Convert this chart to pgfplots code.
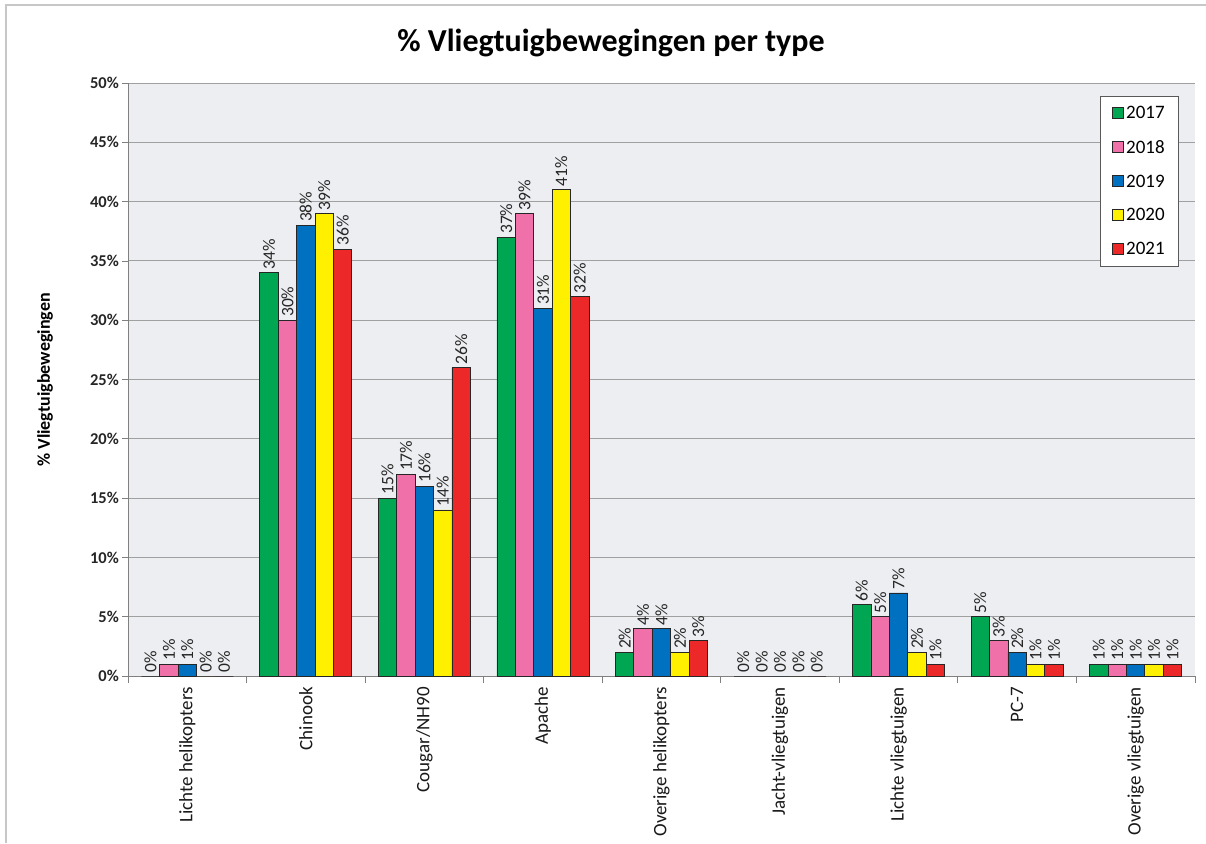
\documentclass[border=0pt]{standalone}
\usepackage{fontspec}
\setmainfont{Carlito}
\usepackage{pgfplots}
\pgfplotsset{compat=1.18}
\definecolor{c17}{RGB}{0,166,81}
\definecolor{c18}{RGB}{240,112,170}
\definecolor{c19}{RGB}{0,112,192}
\definecolor{c20}{RGB}{255,240,0}
\definecolor{c21}{RGB}{237,40,40}
\definecolor{plotbg}{RGB}{237,238,241}
\definecolor{gridc}{RGB}{160,160,160}
\begin{document}
\begin{tikzpicture}
\begin{axis}[
  name=ax,
  width=1067pt, height=593pt, scale only axis,
  xmin=-0.5, xmax=8.5, ymin=0, ymax=50,
  ybar=0pt, bar width=18.4pt,
  axis background/.style={fill=plotbg},
  axis x line*=bottom, axis y line*=left,
  axis line style={draw=gray, line width=0.8pt, -},
  ytick={0,5,...,50},
  yticklabel={\pgfmathprintnumber{\tick}\%},
  /pgf/number format/assume math mode=true,
  yticklabel style={font=\bfseries\fontsize{16.5}{19}\selectfont, text=black!85, inner sep=3pt},
  ymajorgrids, major grid style={draw=gridc, line width=0.9pt},
  tick style={draw=gray, line width=0.8pt},
  tick align=outside, major tick length=6pt, minor tick length=7pt,
  xtick={0,...,8},
  xticklabels={Lichte helikopters,Chinook,Cougar/NH90,Apache,Overige helikopters,Jacht-vliegtuigen,Lichte vliegtuigen,PC-7,Overige vliegtuigen},
  major x tick style={draw=none},
  minor xtick={-0.5,0.5,...,8.5},
  xticklabel style={rotate=90, anchor=east, font=\fontsize{19}{22}\selectfont, text=black!90, inner sep=5pt},
  nodes near coords={\pgfmathprintnumber{\pgfplotspointmeta}\%},
  every node near coord/.append style={rotate=90, anchor=west, font=\fontsize{17.5}{20}\selectfont, text=black!85, inner sep=3pt},
  legend style={at={(0.911,0.978)}, anchor=north west, draw=black!65, line width=0.9pt, fill=white,
    font=\fontsize{19}{22}\selectfont, inner xsep=12pt, inner ysep=8pt, row sep=16pt},
  legend cell align=left,
  legend image code/.code={\draw[#1, draw=black!85, line width=0.8pt] (0pt,-5pt) rectangle (11pt,6pt);},
]
\addplot[fill=c17, draw=black!85, line width=0.8pt] coordinates {(0,0) (1,34) (2,15) (3,37) (4,2) (5,0) (6,6) (7,5) (8,1)};
\addplot[fill=c18, draw=black!85, line width=0.8pt] coordinates {(0,1) (1,30) (2,17) (3,39) (4,4) (5,0) (6,5) (7,3) (8,1)};
\addplot[fill=c19, draw=black!85, line width=0.8pt] coordinates {(0,1) (1,38) (2,16) (3,31) (4,4) (5,0) (6,7) (7,2) (8,1)};
\addplot[fill=c20, draw=black!85, line width=0.8pt] coordinates {(0,0) (1,39) (2,14) (3,41) (4,2) (5,0) (6,2) (7,1) (8,1)};
\addplot[fill=c21, draw=black!85, line width=0.8pt] coordinates {(0,0) (1,36) (2,26) (3,32) (4,3) (5,0) (6,1) (7,1) (8,1)};
\legend{2017,2018,2019,2020,2021}
\end{axis}
\begin{scope}[shift={(ax.south west)}, x=1pt, y=1pt]
\pgfresetboundingbox
\useasboundingbox (-128,676) rectangle (1078,-167);
\draw[color=black!22, line width=1.6pt] (-122,-167) -- (-122,671) -- (1078,671);
\node[font=\bfseries\fontsize{32}{36}\selectfont] at (483,633) {\% Vliegtuigbewegingen per type};
\node[rotate=90, font=\bfseries\fontsize{18}{21}\selectfont] at (-83,296) {\% Vliegtuigbewegingen};
\end{scope}
\end{tikzpicture}
\end{document}
